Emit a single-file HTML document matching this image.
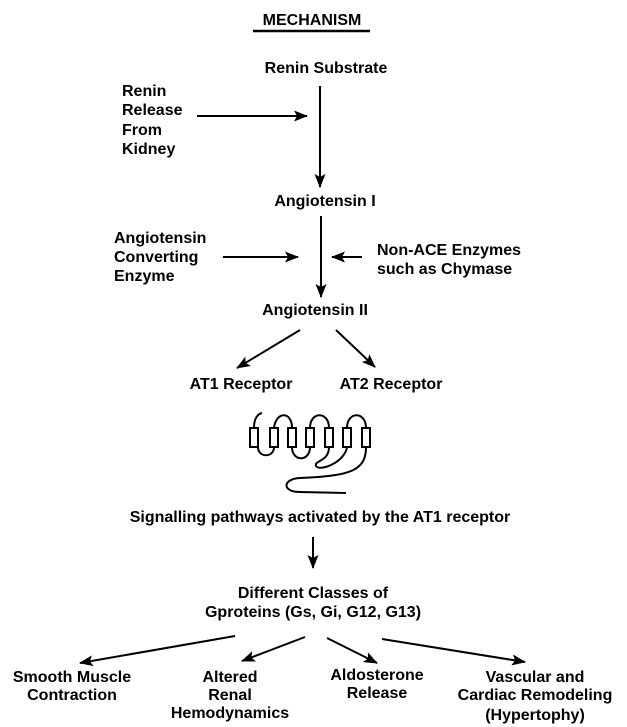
<!DOCTYPE html>
<html><head><meta charset="utf-8"><style>
html,body{margin:0;padding:0;background:#fff;}
svg{display:block;}
text{font-family:"Liberation Sans",Arial,sans-serif;font-weight:bold;font-size:16px;fill:#000;}
</style></head><body>
<svg width="627" height="727" viewBox="0 0 627 727" xmlns="http://www.w3.org/2000/svg">
<defs><marker id="a" markerWidth="14" markerHeight="11" refX="13" refY="5.5" orient="auto" markerUnits="userSpaceOnUse"><path d="M0,0 L14,5.5 L0,11 L3,5.5 Z" fill="#000"/></marker></defs>
<g stroke="#000" stroke-width="2" fill="none" marker-end="url(#a)">
<line x1="320" y1="86" x2="320" y2="187"/>
<line x1="197" y1="116" x2="307" y2="116"/>
<line x1="321" y1="216" x2="321" y2="297"/>
<line x1="223" y1="257" x2="298" y2="257"/>
<line x1="362" y1="257" x2="332" y2="257"/>
<line x1="300" y1="330" x2="237" y2="368"/>
<line x1="336" y1="330" x2="375" y2="367"/>
<line x1="313" y1="537" x2="313" y2="568"/>
<line x1="235" y1="636" x2="80" y2="663"/>
<line x1="305" y1="637" x2="242" y2="661"/>
<line x1="327" y1="638" x2="377" y2="663"/>
<line x1="382" y1="639" x2="525" y2="662"/>
</g>
<text x="312" y="25" text-anchor="middle" font-size="17">MECHANISM</text>
<line x1="253" y1="31" x2="370" y2="31" stroke="#000" stroke-width="2.5"/>
<text x="326" y="73" text-anchor="middle">Renin Substrate</text>
<text x="122" y="96">Renin</text><text x="122" y="115">Release</text><text x="122" y="135">From</text><text x="122" y="154">Kidney</text>
<text x="325" y="206" text-anchor="middle">Angiotensin I</text>
<text x="114" y="243">Angiotensin</text><text x="114" y="262">Converting</text><text x="114" y="281">Enzyme</text>
<text x="377" y="255">Non-ACE Enzymes</text><text x="377" y="274">such as Chymase</text>
<text x="315" y="315" text-anchor="middle">Angiotensin II</text>
<text x="241" y="389" text-anchor="middle">AT1 Receptor</text>
<text x="391" y="389" text-anchor="middle">AT2 Receptor</text>
<g stroke="#000" stroke-width="2" fill="none">
<path d="M254,428 C254,418 258,414 262,413 M258,447 C258,458 274,458 274,447 M274,428 C276,411 292,411 292,428 M292,447 C292,462 310,462 310,447 M310,428 C310,411 329,411 329,428 M329,447 C329,462 314,460 316,466 C320,472 345,462 347,447 M347,428 C347,411 366,411 366,428 M366,447 C366,470 352,476 300,478 C282,479 282,492 300,492 L346,493"/>
<rect x="250" y="428" width="8" height="19"/><rect x="270" y="428" width="8" height="19"/><rect x="288" y="428" width="8" height="19"/><rect x="306" y="428" width="8" height="19"/><rect x="325" y="428" width="8" height="19"/><rect x="343" y="428" width="8" height="19"/><rect x="362" y="428" width="8" height="19"/>
</g>
<text x="320" y="522" text-anchor="middle">Signalling pathways activated by the AT1 receptor</text>
<text x="313" y="598" text-anchor="middle">Different Classes of</text>
<text x="313" y="617" text-anchor="middle">Gproteins (Gs, Gi, G12, G13)</text>
<text x="72" y="682" text-anchor="middle">Smooth Muscle</text><text x="72" y="700" text-anchor="middle">Contraction</text>
<text x="230" y="682" text-anchor="middle">Altered</text><text x="230" y="700" text-anchor="middle">Renal</text><text x="230" y="718" text-anchor="middle">Hemodynamics</text>
<text x="377" y="680" text-anchor="middle">Aldosterone</text><text x="377" y="698" text-anchor="middle">Release</text>
<text x="535" y="682" text-anchor="middle">Vascular and</text><text x="535" y="700" text-anchor="middle">Cardiac Remodeling</text><text x="535" y="720" text-anchor="middle">(Hypertophy)</text>
</svg>
</body></html>
